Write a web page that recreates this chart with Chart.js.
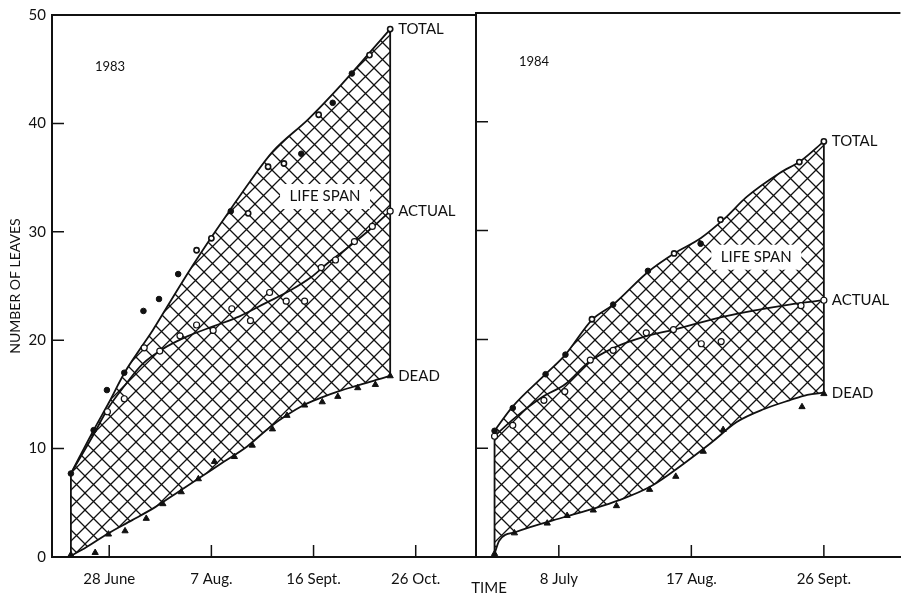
<!DOCTYPE html>
<html lang="en">
<head>
<meta charset="UTF-8">
<title>Number of leaves - 1983 / 1984</title>
<script src="https://cdn.jsdelivr.net/npm/chart.js@4"></script>
<style>
  body { margin: 0; background: #fff; }
  .panneau { position: relative; width: 906px; height: 598px; }
  .panneau canvas { position: absolute; left: 0; top: 0; }
</style>
</head>
<body>
<div class="panneau">
  <canvas id="chart1983" width="906" height="598"></canvas>
  <canvas id="chart1984" width="906" height="598"></canvas>
</div>

<script>
// x = day of the year, y = number of leaves
const yTicks = [0, 10, 20, 30, 40, 50];

const ticks1983 = [179, 219, 259, 299];
const labels1983 = ['28 June', '7 Aug.', '16 Sept.', '26 Oct.'];
const ticks1984 = [190, 230, 270];
const labels1984 = ['8 July', '17 Aug.', '26 Sept.'];

// 1983 fitted curves
const total83 = [[164,7.7],[172.9,11.7],[179,14.3],[185,17.0],[192,19.5],[196,20.9],[203,23.6],[212,27.0],[219,29.5],[226,31.9],[234,34.6],[243,37.4],[257,40.4],[270,43.6],[289,48.7]];
const actual83 = [[164,7.7],[172.9,11.3],[178.5,13.7],[185,15.8],[192,17.8],[200,19.2],[210,20.4],[220,21.3],[230,22.2],[240,23.4],[250,24.6],[258,25.8],[264,27.0],[270,28.1],[277,29.4],[283,30.6],[289,31.9]];
const dead83 = [[164,0.1],[170,0.9],[178.7,2.2],[188,3.4],[197,4.6],[206,6.0],[215,7.4],[224,8.8],[233,10.2],[242,12.0],[248,13.0],[255,14.0],[262,14.7],[269,15.3],[276,15.8],[283,16.3],[289,16.7]];
// 1983 observations
const totalPts83 = [[164,7.7],[172.9,11.7],[178.1,15.4],[184.9,17.0],[192.4,22.7],[198.5,23.8],[206,26.1],[226.6,31.9],[254.2,37.2],[266.5,41.9],[274,44.6]];
const totalOpen83 = [[213.2,28.3],[219,29.4],[233.4,31.7],[241.2,36.0],[247.4,36.3],[261,40.8],[280.9,46.3],[289,48.7]];
const actualPts83 = [[178.3,13.4],[184.9,14.6],[192.7,19.3],[198.8,19.0],[206.7,20.4],[213.2,21.4],[219.7,20.9],[227,22.9],[234.3,21.8],[241.8,24.4],[248.3,23.6],[255.5,23.6],[262,26.7],[267.6,27.4],[275,29.1],[282,30.5],[289,31.9]];
const deadPts83 = [[164,0.2],[173.5,0.4],[178.7,2.1],[185.2,2.4],[193.5,3.55],[200,4.9],[207.2,6.0],[213.9,7.2],[220.2,8.8],[228,9.25],[235,10.3],[242.9,11.8],[248.6,13.05],[255.5,14.0],[262.4,14.3],[268.5,14.8],[276.3,15.6],[283.2,15.9],[289,16.7]];

// 1984 fitted curves
const total84 = [[170.6,11.6],[176,13.8],[186,16.8],[192,18.6],[200,21.8],[206.4,23.2],[216.9,26.2],[224.8,27.9],[232.8,29.3],[240,31.1],[246.7,33.1],[256.7,35.3],[263,36.4],[270,38.2]];
const actual84 = [[170.6,11.1],[176,12.6],[185,14.7],[192,15.9],[199,17.9],[206.4,19.2],[215.9,20.25],[224.8,20.9],[239.8,22.1],[259.6,23.2],[270,23.6]];
const dead84 = [[170.6,0.3],[172,1.5],[177,2.3],[192,3.7],[200,4.4],[208,5.2],[217.8,6.5],[227.8,8.6],[235.8,10.45],[243.7,12.4],[252,13.6],[259.6,14.4],[265,14.9],[270,15.1]];
// 1984 observations
const totalPts84 = [[170.6,11.6],[176.1,13.7],[186,16.8],[192,18.6],[206.4,23.2],[216.9,26.3],[232.8,28.8]];
const totalOpen84 = [[200,21.85],[224.8,27.9],[238.8,31.0],[262.6,36.3],[270,38.2]];
const actualPts84 = [[170.6,11.1],[176.1,12.1],[185.5,14.4],[191.8,15.2],[199.5,18.1],[206.4,19.0],[216.4,20.6],[224.6,20.9],[233,19.6],[239,19.8],[263.1,23.1],[270,23.6]];
const deadPts84 = [[170.6,0.3],[176.6,2.2],[186.5,3.1],[192.5,3.8],[200.4,4.3],[207.4,4.7],[217.4,6.2],[225.3,7.4],[233.6,9.7],[239.6,11.7],[263.4,13.8],[270,15.0]];

const ink = '#111';
const police = 'Lato, "Open Sans", sans-serif';

function pts(arr) { return arr.map(p => ({x: p[0], y: p[1]})); }

// hachures croisees
function hachures() {
  const n = 17;
  const c = document.createElement('canvas');
  c.width = n; c.height = n;
  const g = c.getContext('2d');
  g.strokeStyle = ink;
  g.lineWidth = 1.3;
  g.beginPath();
  [-n, 0, n].forEach(k => { g.moveTo(k, 0); g.lineTo(k + n, n); });
  [0, n, 2 * n].forEach(k => { g.moveTo(k, 0); g.lineTo(k - n, n); });
  g.stroke();
  return g.createPattern(c, 'repeat');
}

const decor = {
  id: 'decor',
  afterDatasetsDraw(chart, args, o) {
    const {ctx, chartArea: a, scales: {x, y}} = chart;
    ctx.save();
    ctx.strokeStyle = ink;
    ctx.fillStyle = ink;
    // top frame line
    ctx.lineWidth = 2;
    ctx.beginPath();
    ctx.moveTo(a.left, a.top); ctx.lineTo(a.right, a.top);
    ctx.stroke();
    // inward tick marks
    ctx.lineWidth = 1.5;
    ctx.beginPath();
    yTicks.slice(1, -1).forEach(v => {
      const py = y.getPixelForValue(v);
      ctx.moveTo(a.left, py); ctx.lineTo(a.left + 12, py);
    });
    o.xTicks.forEach(v => {
      const px = x.getPixelForValue(v);
      ctx.moveTo(px, a.bottom); ctx.lineTo(px, a.bottom - 12);
    });
    ctx.stroke();

    // LIFE SPAN box
    const bx = x.getPixelForValue(o.span[0]), by = y.getPixelForValue(o.span[1]);
    ctx.fillStyle = '#fff';
    ctx.fillRect(bx - 45, by - 12, 90, 25);
    ctx.fillStyle = ink;
    ctx.font = '15px ' + police;
    ctx.textAlign = 'center';
    ctx.textBaseline = 'middle';
    ctx.fillText('LIFE SPAN', bx, by);

    // year
    ctx.font = '13px ' + police;
    ctx.fillText(o.year, x.getPixelForValue(o.yearAt[0]), y.getPixelForValue(o.yearAt[1]));

    // curve end labels
    ctx.font = '15px ' + police;
    ctx.textAlign = 'left';
    o.ends.forEach(e => {
      const last = e.data[e.data.length - 1];
      ctx.fillText(e.label, x.getPixelForValue(last[0]) + 8, y.getPixelForValue(last[1]));
    });

    if (o.yTitle) {
      ctx.save();
      ctx.translate(15, (a.top + a.bottom) / 2);
      ctx.rotate(-Math.PI / 2);
      ctx.textAlign = 'center';
      ctx.font = '14px ' + police;
      ctx.fillText(o.yTitle, 0, 0);
      ctx.restore();
    }
    if (o.xTitle) {
      ctx.textAlign = 'center';
      ctx.fillText(o.xTitle, a.left + 13, 588);
    }
    ctx.restore();
  }
};

function creerPanneau(id, c) {
  const motif = hachures();
  const debut = [c.total[0][0], c.dead[0][1], c.total[0][1]];
  const fin = [c.total[c.total.length - 1][0], c.dead[c.dead.length - 1][1], c.total[c.total.length - 1][1]];
  const ligne = {type: 'line', showLine: true, borderColor: ink, borderWidth: 1.8, pointRadius: 0, fill: false, order: 2, cubicInterpolationMode: 'monotone'};
  const nuage = {type: 'line', showLine: false, order: 1, borderColor: ink, pointBorderColor: ink};

  new Chart(document.getElementById(id), {
    data: {
      datasets: [
        Object.assign({}, ligne, {data: pts(c.total), fill: 2, backgroundColor: motif}),
        Object.assign({}, ligne, {data: pts(c.actual)}),
        Object.assign({}, ligne, {data: pts(c.dead)}),
        Object.assign({}, ligne, {data: [{x: debut[0], y: debut[1]}, {x: debut[0], y: debut[2]}], cubicInterpolationMode: 'default', tension: 0}),
        Object.assign({}, ligne, {data: [{x: fin[0], y: fin[1]}, {x: fin[0], y: fin[2]}], cubicInterpolationMode: 'default', tension: 0}),
        Object.assign({}, nuage, {data: pts(c.totalPts), pointStyle: 'circle', pointRadius: 2.8, pointBackgroundColor: ink, pointBorderWidth: 1}),
        Object.assign({}, nuage, {data: pts(c.totalOpen), pointStyle: 'circle', pointRadius: 2.6, pointBackgroundColor: '#fff', pointBorderWidth: 1.6}),
        Object.assign({}, nuage, {data: pts(c.actualPts), pointStyle: 'circle', pointRadius: 3, pointBackgroundColor: '#fff', pointBorderWidth: 1.2}),
        Object.assign({}, nuage, {data: pts(c.deadPts), pointStyle: 'triangle', pointRadius: 3.6, pointBackgroundColor: ink, pointBorderWidth: 1})
      ]
    },
    options: {
      responsive: false,
      animation: false,
      layout: {padding: c.padding},
      plugins: {
        legend: {display: false},
        tooltip: {enabled: false},
        filler: {drawTime: 'beforeDatasetsDraw'},
        decor: c.decor
      },
      scales: {
        x: {
          type: 'linear',
          min: c.xMin, max: c.xMax,
          grid: {display: false},
          border: {display: true, color: ink, width: 2},
          afterBuildTicks: s => { s.ticks = c.xTicks.map(v => ({value: v})); },
          afterFit: s => { s.height = 41; },
          ticks: {
            autoSkip: false, maxRotation: 0, padding: 5,
            color: ink, font: {family: police, size: 15},
            callback: v => c.xLabels[c.xTicks.indexOf(v)]
          }
        },
        y: {
          type: 'linear',
          min: 0, max: 50,
          grid: {display: false, drawTicks: false},
          border: {display: true, color: ink, width: 2},
          afterBuildTicks: s => { s.ticks = yTicks.map(v => ({value: v})); },
          afterFit: s => { s.width = c.yWidth; },
          ticks: {display: c.yLabels, padding: 6, color: ink, font: {family: police, size: 15}}
        }
      }
    },
    plugins: [decor]
  });
}

creerPanneau('chart1983', {
  total: total83, actual: actual83, dead: dead83,
  totalPts: totalPts83, totalOpen: totalOpen83, actualPts: actualPts83, deadPts: deadPts83,
  xMin: 156.6, xMax: 322.6, xTicks: ticks1983, xLabels: labels1983,
  yWidth: 52, yLabels: true,
  padding: {top: 13, right: 430, left: 0, bottom: 0},
  decor: {
    xTicks: ticks1983, span: [263.5, 33.3], year: '1983', yearAt: [179.3, 45.2],
    yTitle: 'NUMBER OF LEAVES',
    ends: [{label: 'TOTAL', data: total83}, {label: 'ACTUAL', data: actual83}, {label: 'DEAD', data: dead83}]
  }
});

creerPanneau('chart1984', {
  total: total84, actual: actual84, dead: dead84,
  totalPts: totalPts84, totalOpen: totalOpen84, actualPts: actualPts84, deadPts: deadPts84,
  xMin: 165.0, xMax: 293.1, xTicks: ticks1984, xLabels: labels1984,
  yWidth: 476, yLabels: false,
  padding: {top: 13, right: 0, left: 0, bottom: 0},
  decor: {
    xTicks: ticks1984, span: [249.6, 27.6], year: '1984', yearAt: [182.5, 45.5],
    xTitle: 'TIME',
    ends: [{label: 'TOTAL', data: total84}, {label: 'ACTUAL', data: actual84}, {label: 'DEAD', data: dead84}]
  }
});
</script>
</body>
</html>
